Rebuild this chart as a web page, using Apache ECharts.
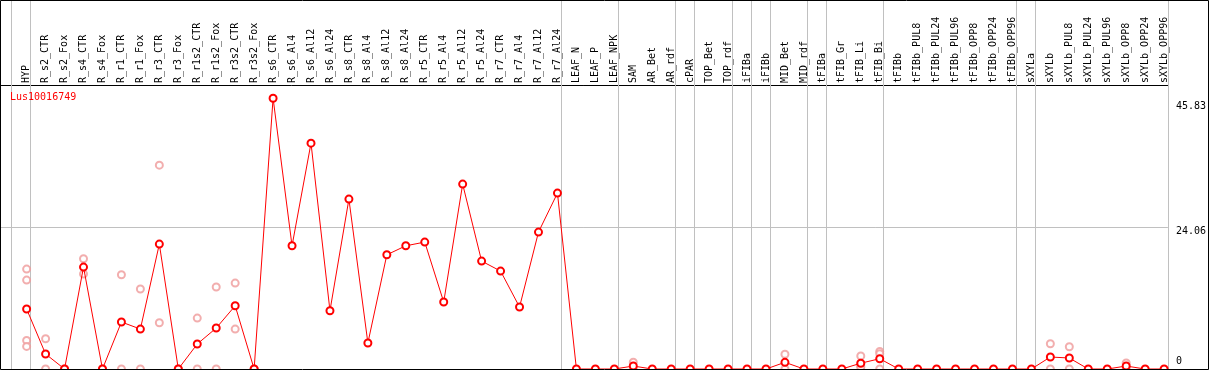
<!DOCTYPE html>
<html>
<head>
<meta charset="utf-8">
<script src="https://cdn.jsdelivr.net/npm/echarts@6/dist/echarts.min.js"></script>
<style>
  html, body { margin: 0; padding: 0; background: #fff; }
  #chart { width: 1209px; height: 370px; }
</style>
</head>
<body>
<div id="chart"></div>
<script>
var geneName = "Lus10016749";

var categories = [
  "HYP", "R_s2_CTR", "R_s2_Fox", "R_s4_CTR", "R_s4_Fox", "R_r1_CTR", "R_r1_Fox",
  "R_r3_CTR", "R_r3_Fox", "R_r1s2_CTR", "R_r1s2_Fox", "R_r3s2_CTR", "R_r3s2_Fox",
  "R_s6_CTR", "R_s6_Al4", "R_s6_Al12", "R_s6_Al24", "R_s8_CTR", "R_s8_Al4",
  "R_s8_Al12", "R_s8_Al24", "R_r5_CTR", "R_r5_Al4", "R_r5_Al12", "R_r5_Al24",
  "R_r7_CTR", "R_r7_Al4", "R_r7_Al12", "R_r7_Al24", "LEAF_N", "LEAF_P", "LEAF_NPK",
  "SAM", "AR_Bet", "AR_rdf", "cPAR", "TOP_Bet", "TOP_rdf", "iFIBa", "iFIBb",
  "MID_Bet", "MID_rdf", "tFIBa", "tFIB_Gr", "tFIB_Li", "tFIB_Bi", "tFIBb",
  "tFIBb_PUL8", "tFIBb_PUL24", "tFIBb_PUL96", "tFIBb_OPP8", "tFIBb_OPP24", "tFIBb_OPP96",
  "sXYLa", "sXYLb", "sXYLb_PUL8", "sXYLb_PUL24", "sXYLb_PUL96", "sXYLb_OPP8",
  "sXYLb_OPP24", "sXYLb_OPP96"
];

// mean expression per sample
var meanValues = [
  10.15, 2.54, 0, 17.25, 0, 7.95, 6.76, 21.14, 0, 4.23, 6.93, 10.7, 0,
  45.83, 20.85, 38.22, 9.86, 28.75, 4.40, 19.33, 20.85, 21.48, 11.33, 31.29, 18.26,
  16.57, 10.49, 23.17, 29.77, 0, 0, 0,
  0.5, 0, 0, 0, 0, 0, 0, 0,
  1.13, 0, 0, 0, 0.98, 1.74, 0,
  0, 0, 0, 0, 0, 0,
  0, 2.03, 1.86, 0, 0, 0.5,
  0, 0
];

// replicate values per sample (only the visible ones)
var replicates = [
  [16.91, 15.05, 4.84, 3.82], [5.12, 0], [0, 0], [18.65, 16.07], [0, 0],
  [15.95, 0], [13.53, 0], [34.5, 7.83], [0, 0], [8.62, 0], [13.87, 0],
  [14.54, 6.76], [0, 0],
  [], [], [], [], [], [], [], [], [], [], [], [], [], [], [], [],
  [], [], [],
  [1.15, 0], [], [], [], [], [], [], [],
  [2.5, 0], [], [], [], [2.2, 0.9, 0.5, 0.3], [2.98, 2.59, 0], [],
  [], [], [], [], [], [],
  [], [4.28, 0], [3.77, 0], [], [], [1.01, 0.1],
  [], []
];

// last sample index of each group (grey separators)
var groupEnds = [-1, 0, 28, 31, 34, 35, 37, 38, 39, 41, 42, 45, 52, 53, 60];

var yTicks = [0, 24.06, 45.83];
var yGuide = 24.06;

var chart = echarts.init(document.getElementById("chart"));

var mono = "DejaVu Sans Mono";

var lineData = meanValues.map(function (v, i) { return [i, v]; });
var repData = [];
replicates.forEach(function (arr, i) {
  arr.forEach(function (v) { repData.push([i, v]); });
});

var sepLines = groupEnds.map(function (i) { return { xAxis: i + 0.2 }; });
sepLines.push({ yAxis: yGuide });

var option = {
  animation: false,
  backgroundColor: "#fff",
  title: {
    text: geneName,
    left: 10,
    top: 92,
    padding: 0,
    textStyle: { color: "#ff0000", fontSize: 10, fontWeight: "normal", fontFamily: mono }
  },
  grid: { left: 0, right: 39, top: 0, bottom: 1 },
  xAxis: {
    type: "value",
    position: "top",
    offset: -85,
    min: -1.405,
    max: 60.2,
    axisLine: { show: true, onZero: false, lineStyle: { color: "#000", width: 1 } },
    axisTick: { show: false },
    splitLine: { show: false },
    axisLabel: {
      customValues: categories.map(function (c, i) { return i; }),
      formatter: function (v) { return categories[v]; },
      rotate: -90, // top axis flips the sign, so this reads bottom-to-top
      margin: 2,
      color: "#000",
      fontSize: 10,
      fontFamily: mono
    }
  },
  yAxis: {
    type: "value",
    position: "right",
    min: 0,
    max: 62.45,
    axisLine: { show: false },
    axisTick: { show: false },
    splitLine: { show: false },
    axisLabel: {
      customValues: yTicks,
      margin: 8,
      verticalAlign: "middle",
      color: "#000",
      fontSize: 10,
      fontFamily: mono,
      formatter: function (v) {
        if (v === 0) return "{lo|0}";
        if (v === yTicks[1]) return "{mid|" + v + "}";
        return "{hi|" + v + "}";
      },
      rich: {
        lo: { fontSize: 10, fontFamily: mono, color: "#000", padding: [0, 0, 15, 0] },
        mid: { fontSize: 10, fontFamily: mono, color: "#000", padding: [9, 0, 0, 0] },
        hi: { fontSize: 10, fontFamily: mono, color: "#000", padding: [17, 0, 0, 0] }
      }
    }
  },
  series: [
    {
      name: "replicates",
      type: "scatter",
      z: 2,
      symbol: "emptyCircle",
      symbolSize: 7,
      itemStyle: { color: "#ef9a9a", borderColor: "#ef9a9a", borderWidth: 1.5 },
      data: repData
    },
    {
      name: geneName,
      type: "line",
      z: 3,
      showAllSymbol: true,
      symbol: "emptyCircle",
      symbolSize: 7,
      lineStyle: { color: "#ff0000", width: 1 },
      itemStyle: { color: "#ff0000", borderColor: "#ff0000", borderWidth: 1.5 },
      data: lineData,
      markLine: {
        silent: true,
        symbol: "none",
        label: { show: false },
        lineStyle: { color: "#c0c0c0", width: 1, type: "solid" },
        z: 1,
        data: sepLines
      }
    }
  ],
  graphic: [
    {
      type: "rect",
      z: 100,
      silent: true,
      shape: { x: 0.5, y: 0.5, width: 1208, height: 369 },
      style: { fill: null, stroke: "#000", lineWidth: 1 }
    }
  ]
};

chart.setOption(option);
</script>
</body>
</html>
